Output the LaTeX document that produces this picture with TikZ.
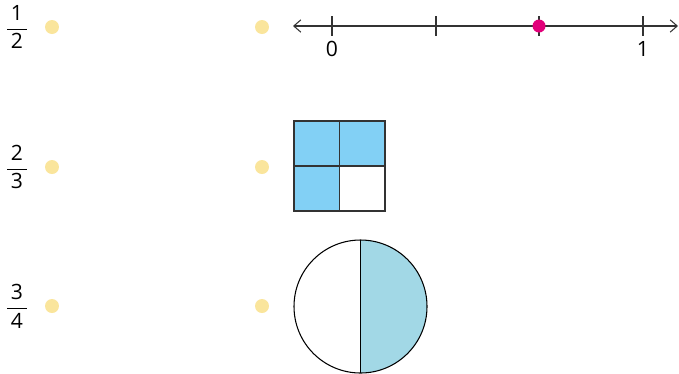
\documentclass[tikz,border=0pt]{standalone}
\usepackage{amsmath}
\usepackage{fontspec}
\setmainfont{Open Sans}
\usetikzlibrary{arrows.meta}
\definecolor{dotyellow}{HTML}{FAE59C}
\definecolor{dotpink}{HTML}{E2007A}
\definecolor{sqblue}{HTML}{82D0F5}
\definecolor{halfblue}{HTML}{A2D8E6}
\definecolor{linegray}{HTML}{333333}

\begin{document}
\begin{tikzpicture}[x=0.02cm,y=-0.02cm,
    dot/.style={circle,fill=dotyellow,minimum size=0.28cm,inner sep=0pt},
    frac/.style={inner sep=0pt,font=\large}]
  \useasboundingbox (0,0) rectangle (679,373);
  % fractions and dots to match
  \node[frac] (f1) at (17,27)  {$\dfrac{\,\text{1}\,}{\,\text{2}\,}$};
  \node[frac] (f2) at (17,167) {$\dfrac{\,\text{2}\,}{\,\text{3}\,}$};
  \node[frac] (f3) at (17,306) {$\dfrac{\,\text{3}\,}{\,\text{4}\,}$};
  \node[dot] (a1) at (52,27) {};  \node[dot] (b1) at (262,27) {};
  \node[dot] (a2) at (52,167) {}; \node[dot] (b2) at (262,167) {};
  \node[dot] (a3) at (52,306) {}; \node[dot] (b3) at (262,306) {};
  % number line
  \draw[line width=0.6pt,linegray,{Straight Barb[length=4pt,width=7pt]}-{Straight Barb[length=4pt,width=7pt]}] (293,26) -- (678,26);
  \foreach \x in {332,436,539,643} \draw[line width=0.6pt,linegray] (\x,16) -- (\x,36);
  \node[font=\large] (n0) at (332,49) {0};
  \node[font=\large] (n1) at (643,49) {1};
  \fill[dotpink] (539,26) circle (6.5);
  % square
  \fill[sqblue] (294,121) rectangle (385,211);
  \fill[white] (339.5,166) rectangle (385,211);
  \draw[line width=0.7pt,linegray] (294,121) rectangle (385,211);
  \draw[line width=0.7pt,linegray] (339.5,121) -- (339.5,211) (294,166) -- (385,166);
  % circle
  \fill[halfblue] (360.5,240) arc (-90:90:66.5) -- cycle;
  \draw[line width=0.6pt,black] (360.5,306.5) circle (66.5);
  \draw[line width=0.6pt,black] (360.5,240) -- (360.5,373);
\end{tikzpicture}
\end{document}
